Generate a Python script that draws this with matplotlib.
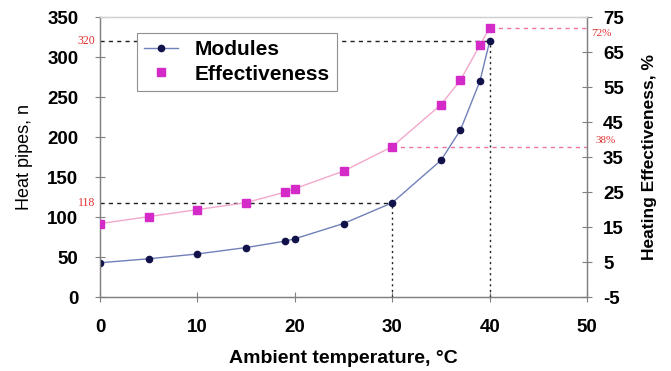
import numpy as np
import matplotlib
matplotlib.use("Agg")
import matplotlib.pyplot as plt
from matplotlib.lines import Line2D

plt.rcParams['font.family'] = ['Liberation Sans', 'DejaVu Sans']
plt.rcParams['axes.unicode_minus'] = False

# ambient temperature, degC
temp = [0, 5, 10, 15, 19, 20, 25, 30, 35, 37, 39, 40]
# number of heat pipes (left axis)
modules = [43, 48, 54, 62, 70, 73, 92, 118, 171, 209, 270, 320]
# heating effectiveness, % (right axis)
effect = [16, 18, 20, 22, 25, 26, 31, 38, 50, 57, 67, 72]

x_ticks = [0, 10, 20, 30, 40, 50]
left_ticks = [0, 50, 100, 150, 200, 250, 300, 350]
right_ticks = [-5, 5, 15, 25, 35, 45, 55, 65, 75]

navy = '#12124a'
navy_line = '#7080b8'
mag = '#d42ac8'
pink_line = '#f2a8cc'
red = '#e03030'

fig = plt.figure(figsize=(6.71, 3.71), dpi=100)
ax = fig.add_axes([0.149, 0.199, 0.726, 0.755])
ax2 = ax.twinx()

ax.plot(temp, modules, color=navy_line, lw=1.0, zorder=3)
ax.plot(temp, modules, 'o', color=navy, ms=4.5, zorder=4, label='Modules')
ax2.plot(temp, effect, color=pink_line, lw=1.0, zorder=3)
ax2.plot(temp, effect, 's', color=mag, ms=6, zorder=4, label='Effectiveness')

# guide lines
ax.plot([0, 40], [320, 320], color='#202020', ls=(0, (3, 3)), lw=1.0)
ax.plot([40, 40], [0, 320], color='#202020', ls=(0, (1.5, 2.5)), lw=1.0)
ax.plot([0, 30], [118, 118], color='#202020', ls=(0, (3, 3)), lw=1.0)
ax.plot([30, 30], [0, 118], color='#202020', ls=(0, (1.5, 2.5)), lw=1.0)
ax2.plot([40, 50], [72, 72], color='#f070a8', ls=(0, (3, 3)), lw=1.0)
ax2.plot([30, 50], [38, 38], color='#f070a8', ls=(0, (3, 3)), lw=1.0)

ax.text(-0.5, 320, '320', color=red, fontsize=8.5, family='Liberation Serif',
        ha='right', va='center')
ax.text(-0.5, 118, '118', color=red, fontsize=8.5, family='Liberation Serif',
        ha='right', va='center')
ax2.text(50.4, 71.5, '72%', color=red, fontsize=8, family='Liberation Serif',
         ha='left', va='top')
ax2.text(50.9, 38.6, '38%', color=red, fontsize=8, family='Liberation Serif',
         ha='left', va='bottom')

ax.set_xlim(0, 50)
ax.set_ylim(0, 350)
ax2.set_ylim(-5, 75)
ax.set_xticks(x_ticks)
ax.set_yticks(left_ticks)
ax2.set_yticks(right_ticks)

for a in (ax, ax2):
    a.tick_params(labelsize=13.5, direction='inout', length=7, width=0.8,
                  color='#808080', pad=4)
    for lab in a.get_xticklabels() + a.get_yticklabels():
        lab.set_fontweight('bold')
    for s in a.spines.values():
        s.set_color('#808080')
        s.set_linewidth(0.9)
    a.spines['top'].set_color('#d0d0d0')
ax.tick_params(axis='x', pad=12)
ax.tick_params(axis='y', pad=12)
ax2.tick_params(axis='y', pad=8)

ax.set_xlabel('Ambient temperature, °C', fontsize=14, fontweight='bold',
              labelpad=10)
ax.set_ylabel('Heat pipes, n', fontsize=13, labelpad=10)
ax2.set_ylabel('Heating Effectiveness, %', fontsize=12.5, fontweight='bold',
               labelpad=13)

h1, l1 = ax.get_legend_handles_labels()
h2, l2 = ax2.get_legend_handles_labels()
h1 = [Line2D([], [], color=navy_line, marker='o', mfc=navy, mec=navy, ms=4.5, lw=1)]
leg = ax2.legend(h1 + h2, l1 + l2, loc='upper left',
                 bbox_to_anchor=(0.076, 0.943), fancybox=False,
                 framealpha=1, edgecolor='#909090',
                 prop={'weight': 'bold', 'size': 15},
                 handlelength=1.6, handletextpad=0.8, borderpad=0.35,
                 labelspacing=0.25, borderaxespad=0)
leg.get_frame().set_linewidth(0.8)

fig.savefig('out.png', dpi=100)
